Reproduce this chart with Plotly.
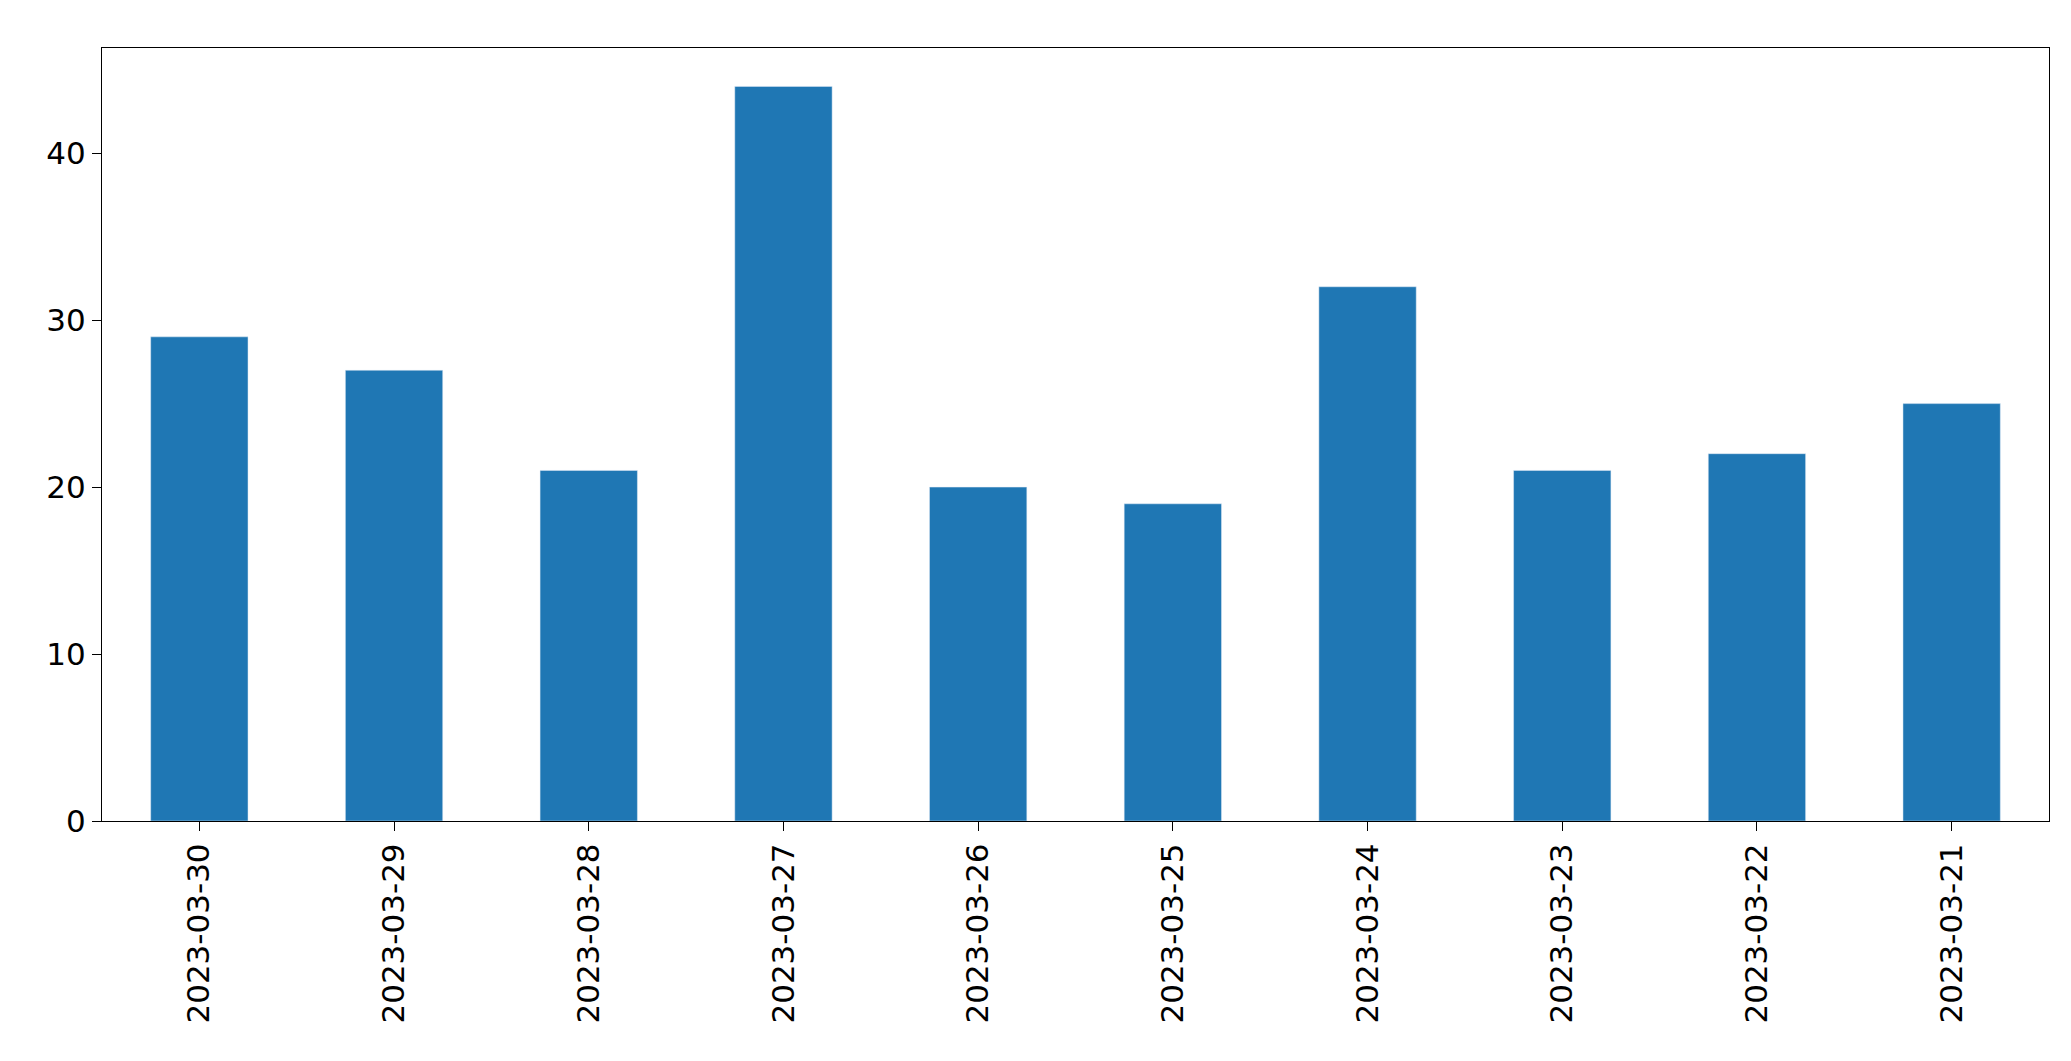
import plotly.graph_objects as go

dates = ["2023-03-30","2023-03-29","2023-03-28","2023-03-27","2023-03-26",
         "2023-03-25","2023-03-24","2023-03-23","2023-03-22","2023-03-21"]
counts = [29, 27, 21, 44, 20, 19, 32, 21, 22, 25]

fig = go.Figure(go.Bar(x=dates, y=counts, marker_color="#1f77b4", width=0.5))
fig.update_layout(
    width=2071, height=1061, plot_bgcolor="white", paper_bgcolor="white",
    margin=dict(l=94, r=30, t=40, b=248), showlegend=False,
    font=dict(family="DejaVu Sans", size=31, color="black"),
)
fig.update_xaxes(type="category", range=[-0.5, 9.5], tickangle=-90,
                 showline=True, linecolor="black", mirror=True,
                 ticks="outside", ticklen=9, tickcolor="black")
fig.update_yaxes(range=[0, 46.3], tickvals=[0,10,20,30,40], showgrid=False,
                 showline=True, linecolor="black", mirror=True, zeroline=False,
                 ticks="outside", ticklen=9, tickcolor="black")
fig.write_html("out.html")
